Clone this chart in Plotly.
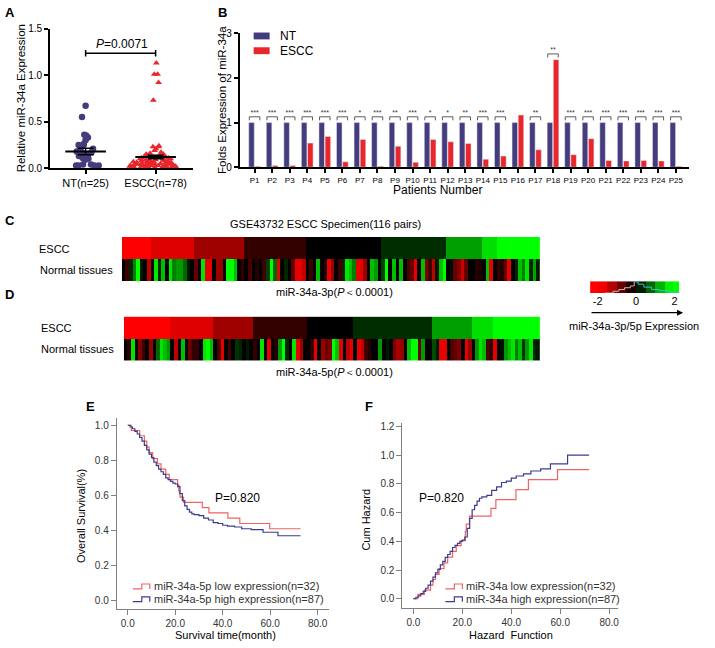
import numpy as np
import plotly.graph_objects as go

W, H = 715, 648
FONT = "Liberation Sans, Arial, sans-serif"


def fx(p):
    return p / W


def fy(p):
    return 1 - p / H


# ---- A: scatter of relative expression
nt_values = [0.67, 0.55, 0.36, 0.35, 0.33, 0.30, 0.26, 0.25, 0.25, 0.21, 0.19, 0.18, 0.17,
             0.16, 0.15, 0.13, 0.11, 0.10, 0.09, 0.04, 0.04, 0.03, 0.03, 0.03, 0.03]
escc_values = [1.13, 1.01, 1.01, 0.92, 0.73, 0.24, 0.23, 0.23, 0.21, 0.19, 0.17, 0.16, 0.15,
               0.15, 0.14, 0.14, 0.13, 0.13, 0.12, 0.12, 0.12, 0.11, 0.11, 0.10, 0.10, 0.10,
               0.09, 0.09, 0.09, 0.08, 0.08, 0.08, 0.08, 0.07, 0.07, 0.07, 0.07, 0.06, 0.06,
               0.06, 0.06, 0.06, 0.05, 0.05, 0.05, 0.05, 0.05, 0.04, 0.04, 0.04, 0.04, 0.04,
               0.04, 0.03, 0.03, 0.03, 0.03, 0.03, 0.03, 0.03, 0.02, 0.02, 0.02, 0.02, 0.02,
               0.02, 0.02, 0.01, 0.01, 0.01, 0.01, 0.01, 0.01, 0.01, 0.01, 0.00, 0.00, 0.00]
a_groups = ["NT(n=25)", "ESCC(n=78)"]
a_means = [0.18, 0.12]
a_sems = [0.035, 0.02]
a_bracket = 1.235

# ---- B: paired bars
patients = ["P%d" % i for i in range(1, 26)]
nt_fold = [1] * 25
escc_fold = [0.02, 0.04, 0.04, 0.54, 0.69, 0.12, 0.62, 0.02, 0.47, 0.11, 0.62, 0.57, 0.53,
             0.18, 0.25, 1.17, 0.39, 2.41, 0.28, 0.64, 0.15, 0.14, 0.15, 0.14, 0.02]
stars = ["***", "***", "***", "***", "***", "***", "*", "***", "**", "***", "*", "*", "**",
         "***", "***", "", "**", "**", "***", "***", "***", "***", "***", "***", "***"]

# ---- C/D: heatmaps (ESCC rows as run lengths of sorted levels)
escc_levels = [-2, -1.75, -1.25, -0.4, 0, 0.35, 1.25, 1.75, 2]
c_escc_counts = [8, 12, 14, 17, 21, 18, 10, 4, 12]
d_escc_counts = [13, 12, 11, 15, 13, 22, 11, 6, 13]
c_normal = [0, -0.5, 0.3, 1.0, 2, 0.2, 0, -1.5, 0, 1.8,
            0.3, 1.5, 0, 1.8, 1.0, 1.2, 1.2, 0.8, 0.2, 0,
            -0.8, 0, 1.8, -1.8, -1.8, 0, -1.2, -1.2, 0, 2,
            2, 1.5, 0, -0.4, 0, -0.6, 0, -0.3, 0, -0.5,
            0.5, 2, 0.8, -1.8, 0, 0.3, 0, -0.8, -1.8, -1.8,
            -1.5, 0, -0.5, 0, 1.5, 0, -0.3, -1.8, -1.2, 0,
            -0.5, 0.3, 1.8, 1.5, 1.0, -1.8, -1.8, -1.2, 0, 1.5,
            1.2, 0, 0.5, 2, 0, 1.5, 0, 1.5, 0, -0.6,
            -0.8, -1.8, 0, 1.5, -1.0, -0.5, -1.5, 0.2, 1.5, 2,
            0, 0.1, -0.8, -1.0, -1.6, -0.8, 0, 0, -0.3, -0.2,
            0, 1.5, -1.8, 0, -0.4, -0.3, -0.8, -1.8, 0, 0.3,
            1.5, 1.0, 1.8, 0.3, 1.3, 0.2]
d_normal = [0, -0.4, 1.8, 0, -1.0, -0.5, 0, -1.2, 0, 0.8,
            1.8, 1.5, 1.2, 0, -1.5, 0, 1.5, 0, -0.8, -0.4,
            -0.4, 0, 1.8, 2, 1.5, 0, -0.6, -1.8, 0, -0.5,
            0, 0.4, 0.3, 0, 0.2, 0, -0.4, 0, 1.8, 0,
            -1.8, 0, -0.3, 1.2, 2, 0.3, 0, 1.8, -1.8, -1.2,
            0, 0, -0.4, -1.8, 0, -1.2, -0.8, -1.0, 2, 1.5,
            -1.8, 0, -1.5, -1.8, 0, -1.8, -1.5, -0.5, -0.3, 0,
            0, 1.2, 0, 0.2, 0, -1.0, -1.3, -1.2, 0, 1.5,
            2, 2, -0.8, 1.2, 0, 0, 0.6, 0.2, -1.8, -1.8,
            0, -0.6, -0.8, -1.0, 0, -1.8, -1.2, 0, 1.2, 1.8,
            1.5, -0.6, -0.3, -1.8, 0, 0.1, 1.2, 1.5, 1.8, 1.0,
            1.5, 0.4, 1.2, 1.8, 0.3, 0.2]
cb_x = [-2.25, -1.75, -1.25, -0.75, -0.25, 0.25, 0.75, 1.25, 1.75, 2.1]
cb_z = [-2, -1.9, -1.4, -0.8, -0.25, 0.25, 0.8, 1.4, 1.9, 2]
hist_x = [-1.6, -1.2, -0.9, -0.6, -0.3, -0.1, 0.1, 0.4, 0.8, 1.2, 1.7, 2.2]
hist_y = [0.0, 0.15, 0.3, 0.45, 0.6, 0.95, 0.75, 0.5, 0.3, 0.2, 0.08, 0.0]

# ---- E: survival
e_low_t = [0, 1.5, 5, 7, 8, 9, 10.5, 12.5, 14, 16, 17.5, 21, 21.5, 22, 23.5, 31.4, 34.2,
           42.2, 47.2, 59.8, 72.8]
e_low_s = [1.0, 0.97, 0.94, 0.91, 0.875, 0.844, 0.81, 0.78, 0.75, 0.72, 0.69, 0.66, 0.625,
           0.59, 0.56, 0.53, 0.50, 0.47, 0.44, 0.41, 0.41]
e_high_t = [0, 1, 2, 3, 4, 5, 6, 7, 8, 9, 10, 11, 12, 13, 14, 15, 16, 17, 18, 19, 20, 21, 22,
            23, 24, 25, 26, 27, 28, 30, 32, 34, 36, 38, 40, 42, 45, 48, 52, 57, 63.3, 72.8]
e_high_s = [1.0, 0.99, 0.98, 0.965, 0.95, 0.93, 0.91, 0.885, 0.86, 0.835, 0.815, 0.79, 0.77,
            0.75, 0.735, 0.72, 0.70, 0.69, 0.68, 0.67, 0.665, 0.65, 0.61, 0.57, 0.54, 0.52,
            0.505, 0.495, 0.49, 0.485, 0.47, 0.46, 0.445, 0.44, 0.43, 0.425, 0.42, 0.41,
            0.405, 0.39, 0.37, 0.37]

# ---- F: cumulative hazard
f_low_t = [0, 1.8, 4.5, 7, 8, 9, 10.5, 12.5, 14, 16, 17.5, 19.5, 21.2, 21.6, 22.9, 31.7,
           33.7, 41.9, 47, 58.9, 71.8]
f_low_h = [0, 0.03, 0.06, 0.094, 0.134, 0.17, 0.21, 0.25, 0.29, 0.33, 0.37, 0.405, 0.47,
           0.52, 0.575, 0.63, 0.69, 0.76, 0.83, 0.90, 0.90]
f_high_t = [0, 1, 2, 3, 4, 5, 6, 7, 8, 9, 10, 11, 12, 13, 14, 15, 16, 17, 18, 19, 20, 21, 22,
            23, 24, 25, 26, 27, 28, 30, 32, 34, 36, 38, 40, 42, 45, 48, 52, 56, 63, 71.8]
f_high_h = [0, 0.01, 0.02, 0.036, 0.051, 0.073, 0.094, 0.122, 0.151, 0.18, 0.205, 0.236,
            0.26, 0.288, 0.308, 0.33, 0.357, 0.371, 0.386, 0.40, 0.408, 0.43, 0.49, 0.56,
            0.62, 0.65, 0.68, 0.70, 0.71, 0.72, 0.755, 0.78, 0.81, 0.82, 0.84, 0.855, 0.87,
            0.89, 0.905, 0.94, 1.0, 1.0]

NAVY = "#443c7c"
RED = "#e8262b"
KM_RED = "#f06464"
KM_BLUE = "#3c3c8c"
rg_scale = [[0, "#ff0000"], [0.5, "#000000"], [1, "#00ff00"]]

fig = go.Figure()

# A
for i, (vals, col, sym, wid) in enumerate([(nt_values, NAVY, "circle", 0.72),
                                             (escc_values, RED, "triangle-up", 0.86)]):
    fig.add_trace(go.Box(y=vals, x0=i, width=wid, boxpoints="all", jitter=1, pointpos=0,
                         fillcolor="rgba(0,0,0,0)", line=dict(color="rgba(0,0,0,0)", width=0),
                         marker=dict(color=col, symbol=sym, size=6.5 if i == 0 else 6),
                         showlegend=False, xaxis="x", yaxis="y"))
    fig.add_trace(go.Scatter(x=[i - 0.29, i + 0.29], y=[a_means[i]] * 2, mode="lines",
                             line=dict(color="black", width=2), showlegend=False))
    fig.add_trace(go.Scatter(x=[i], y=[a_means[i]], mode="markers", marker=dict(opacity=0),
                             error_y=dict(type="data", array=[a_sems[i]], width=8,
                                          thickness=1.5, color="black"),
                             showlegend=False))
fig.add_trace(go.Scatter(x=[0, 0, None, 0, 1, None, 1, 1],
                         y=[a_bracket - 0.035, a_bracket + 0.035, None, a_bracket, a_bracket,
                            None, a_bracket - 0.035, a_bracket + 0.035],
                         mode="lines", line=dict(color="black", width=1.5), showlegend=False))

# B
xb = list(range(len(patients)))
fig.add_trace(go.Bar(x=xb, y=nt_fold, name="NT", marker_color=NAVY, xaxis="x2", yaxis="y2",
                     showlegend=False))
fig.add_trace(go.Bar(x=xb, y=escc_fold, name="ESCC", marker_color=RED, xaxis="x2", yaxis="y2",
                     showlegend=False))
bx, by, sx, sy, st = [], [], [], [], []
for i, s in enumerate(stars):
    if not s:
        continue
    top = max(nt_fold[i], escc_fold[i])
    bx += [i - 0.3, i - 0.3, i + 0.3, i + 0.3, None]
    by += [top + 0.05, top + 0.13, top + 0.13, top + 0.05, None]
    sx.append(i)
    sy.append(top + 0.13)
    st.append(s)
fig.add_trace(go.Scatter(x=bx, y=by, mode="lines", line=dict(color="#333", width=0.8),
                         showlegend=False, xaxis="x2", yaxis="y2"))
fig.add_trace(go.Scatter(x=sx, y=sy, text=st, mode="text", textposition="top center",
                         textfont=dict(size=7, color="#333"), showlegend=False,
                         xaxis="x2", yaxis="y2"))

# C / D heatmaps
for counts, normal, xa, ya in [(c_escc_counts, c_normal, "x3", "y3"),
                               (d_escc_counts, d_normal, "x4", "y4")]:
    escc_row = list(np.repeat(escc_levels, counts))
    fig.add_trace(go.Heatmap(z=[normal, escc_row], y=[0, 1], colorscale=rg_scale, zmin=-2,
                             zmax=2, showscale=False, xaxis=xa, yaxis=ya, hoverinfo="skip"))

# colour key
fig.add_trace(go.Heatmap(z=[cb_z], x=cb_x, y=[0.5], colorscale=rg_scale, zmin=-2, zmax=2,
                         showscale=False, xaxis="x5", yaxis="y5", hoverinfo="skip"))
fig.add_trace(go.Scatter(x=hist_x[:6], y=hist_y[:6], mode="lines", line_shape="hv",
                         line=dict(color="#bbbbbb", width=1), showlegend=False,
                         xaxis="x5", yaxis="y5"))
fig.add_trace(go.Scatter(x=hist_x[5:], y=hist_y[5:], mode="lines", line_shape="hv",
                         line=dict(color="#3cc0d0", width=1), showlegend=False,
                         xaxis="x5", yaxis="y5"))

# E / F curves
km = [(e_low_t, e_low_s, KM_RED, "x6", "y6"), (e_high_t, e_high_s, KM_BLUE, "x6", "y6"),
      (f_low_t, f_low_h, KM_RED, "x7", "y7"), (f_high_t, f_high_h, KM_BLUE, "x7", "y7")]
for t, v, col, xa, ya in km:
    fig.add_trace(go.Scatter(x=t, y=v, mode="lines", line_shape="hv",
                             line=dict(color=col, width=1.2), showlegend=False,
                             xaxis=xa, yaxis=ya))

blk = dict(showline=True, linecolor="black", linewidth=1.5, ticks="outside", ticklen=4,
           tickwidth=1.5, tickcolor="black", showgrid=False, zeroline=False)
gry = dict(showline=True, linecolor="#808080", linewidth=1.2, ticks="outside", ticklen=5,
           tickcolor="#808080", showgrid=False, zeroline=False,
           tickfont=dict(size=10, color="#333"), tickformat=".1f")
hide = dict(visible=False, showgrid=False, zeroline=False)

fig.update_layout(
    width=W, height=H, margin=dict(l=0, r=0, t=0, b=0),
    paper_bgcolor="white", plot_bgcolor="white",
    font=dict(family=FONT, size=11, color="black"),
    barmode="group", bargap=0.3, bargroupgap=0.1,
    xaxis=dict(domain=[fx(50), fx(193)], range=[-0.51, 1.53], tickvals=[0, 1],
               ticktext=a_groups, tickfont=dict(size=11), anchor="y", **blk),
    yaxis=dict(domain=[fy(166), fy(24)], range=[0, 1.5], tickvals=[0, 0.5, 1, 1.5],
               tickformat=".1f", tickfont=dict(size=10), anchor="x", **blk),
    xaxis2=dict(domain=[fx(240), fx(690)], range=[-0.85, 24.75], tickvals=xb,
                ticktext=patients, tickfont=dict(size=8), anchor="y2", **blk),
    yaxis2=dict(domain=[fy(165), fy(28)], range=[0, 3.02], tickvals=[0, 1, 2, 3],
                tickfont=dict(size=10), anchor="x2", **blk),
    xaxis3=dict(domain=[fx(122), fx(541)], range=[-0.5, 115.5], anchor="y3", **hide),
    yaxis3=dict(domain=[fy(281), fy(236)], range=[-0.5, 1.5], anchor="x3", **hide),
    xaxis4=dict(domain=[fx(124), fx(541)], range=[-0.5, 115.5], anchor="y4", **hide),
    yaxis4=dict(domain=[fy(362), fy(317)], range=[-0.5, 1.5], anchor="x4", **hide),
    xaxis5=dict(domain=[fx(591), fx(680)], range=[-2.39, 2.23], tickvals=[-2, 0, 2],
                ticktext=["-2", "0", "2"], showline=False, showgrid=False, zeroline=False,
                ticks="", tickfont=dict(size=11), anchor="y5"),
    yaxis5=dict(domain=[fy(293), fy(281)], range=[0, 1], anchor="x5", **hide),
    xaxis6=dict(domain=[fx(117), fx(329)], range=[-4.6, 84.6], tickvals=[0, 20, 40, 60, 80],
                anchor="y6", **gry),
    yaxis6=dict(domain=[fy(614), fy(420)], range=[-0.045, 1.042],
                tickvals=[0, 0.2, 0.4, 0.6, 0.8, 1.0], anchor="x6", **gry),
    xaxis7=dict(domain=[fx(403), fx(619)], range=[-4.49, 83.67], tickvals=[0, 20, 40, 60, 80],
                anchor="y7", **gry),
    yaxis7=dict(domain=[fy(613), fy(425)], range=[-0.062, 1.226],
                tickvals=[0, 0.2, 0.4, 0.6, 0.8, 1.0, 1.2], anchor="x7", **gry),
)

ann = []
shapes = []


def text(x, y, s, size=11, anchor="center", angle=0, color="black"):
    ann.append(dict(x=fx(x), y=fy(y), xref="paper", yref="paper", text=s, showarrow=False,
                    xanchor=anchor, yanchor="middle", textangle=angle,
                    font=dict(size=size, color=color)))


for letter, x, y in [("A", 3, 8), ("B", 216, 8), ("C", 3, 219), ("D", 3, 295),
                     ("E", 84, 408), ("F", 364, 408)]:
    text(x, y, "<b>%s</b>" % letter, size=13, anchor="left")

text(122, 40, "<i>P</i>=0.0071", size=12)
text(21, 95, "Relative miR-34a Expression", size=11.5, angle=-90)
text(223, 97, "Folds Expression of miR-34a", size=11.5, angle=-90)
text(438, 188, "Patients Number", size=12)
text(326, 223, "GSE43732 ESCC Specimen(116 pairs)")
text(335, 292, "miR-34a-3p(<i>P</i>＜0.0001)")
text(335, 373, "miR-34a-5p(<i>P</i>＜0.0001)")
text(37, 248, "ESCC", anchor="left")
text(38, 270, "Normal tissues", anchor="left")
text(39, 329, "ESCC", anchor="left")
text(39, 350, "Normal tissues", anchor="left")
text(635, 327, "miR-34a-3p/5p Expression")
text(213, 502, "P=0.820", size=12, anchor="left")
text(418, 502, "P=0.820", size=12, anchor="left")
text(81, 520, "Overall Survival(%)", angle=-90)
text(226, 641, "Survival time(month)")
text(367, 523, "Cum Hazard", angle=-90)
text(512, 641, "Hazard\u00a0\u00a0Function")

# legend of B
for name, col, y in [("NT", NAVY, 31.5), ("ESCC", RED, 46.5)]:
    shapes.append(dict(type="rect", xref="paper", yref="paper", x0=fx(254), x1=fx(270),
                       y0=fy(y + 3.5), y1=fy(y - 3.5), fillcolor=col, line_width=0))
    text(278, y, name, size=12, anchor="left")


# legends of E and F (SPSS style step icons)
def step_icon(x0, y, col):
    pts = [(x0, y), (x0 + 9, y), (x0 + 9, y - 5), (x0 + 17, y - 5), (x0 + 17, y)]
    path = "M" + " L".join("%.5f,%.5f" % (fx(a), fy(b)) for a, b in pts)
    shapes.append(dict(type="path", xref="paper", yref="paper", path=path,
                       line=dict(color=col, width=1.2)))


for x0, labels in [(133, ["miR-34a-5p low expression(n=32)", "miR-34a-5p high expression(n=87)"]),
                   (446, ["miR-34a low expression(n=32)", "miR-34a high expression(n=87)"])]:
    for lab, col, y in [(labels[0], KM_RED, 591), (labels[1], KM_BLUE, 604)]:
        step_icon(x0, y + 3, col)
        text(x0 + 19, y, lab, size=11, anchor="left", color="#333")

ann.append(dict(x=fx(684), y=fy(313), xref="paper", yref="paper", ax=-93, ay=0,
                showarrow=True, arrowhead=2, arrowsize=1, arrowwidth=1.2,
                arrowcolor="black", text=""))
fig.update_layout(annotations=ann, shapes=shapes)

fig.write_html("out.html", config={"displayModeBar": False},
               post_script="document.body.style.margin='0';")
